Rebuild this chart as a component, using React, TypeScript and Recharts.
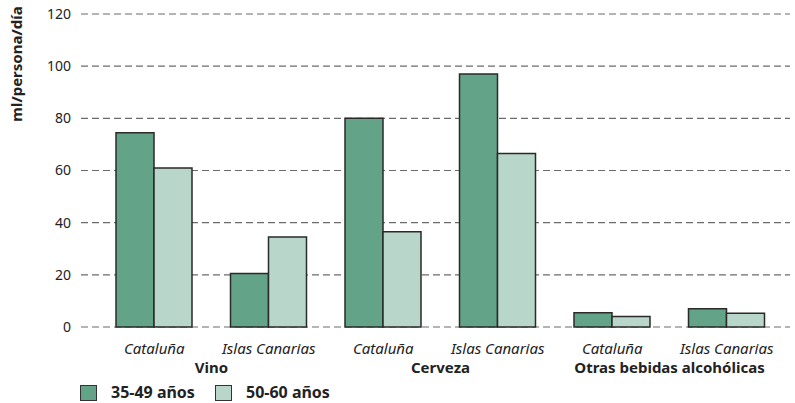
import { BarChart, Bar, XAxis, YAxis, CartesianGrid } from "recharts"

// Consumo de bebidas alcohólicas por región y grupo de edad (ml/persona/día)
const regions = ["Cataluña", "Islas Canarias", "Cataluña", "Islas Canarias", "Cataluña", "Islas Canarias"]
const groups = ["Vino", "Cerveza", "Otras bebidas alcohólicas"]
const age35to49 = [74.5, 20.5, 80, 97, 5.5, 7]
const age50to60 = [61, 34.5, 36.5, 66.5, 4, 5.3]
const yTicks = [0, 20, 40, 60, 80, 100, 120]

const DARK = "#63a388"
const LIGHT = "#b9d6ca"
const FONT = "'Noto Sans', 'Liberation Sans', Arial, sans-serif"

const data = regions.map((region, i) => ({
  region,
  group: groups[Math.floor(i / 2)],
  a: age35to49[i],
  b: age50to60[i],
}))

const BAND = (795 - 5 - 81 - 22) / regions.length

function RegionTick(props: any) {
  const { x, y, payload, index } = props
  return (
    <g>
      <text x={x} y={y + 25} textAnchor="middle" fontFamily={FONT} fontSize={15} fontStyle="italic" fill="#222">
        {payload.value}
      </text>
      {index % 2 === 1 && (
        <text x={x - BAND / 2} y={y + 44} textAnchor="middle" fontFamily={FONT} fontSize={15} fontWeight="bold" fill="#222">
          {data[index].group}
        </text>
      )}
    </g>
  )
}

function YLabel() {
  return (
    <text x={22} y={64} transform="rotate(-90, 22, 64)" textAnchor="middle" fontFamily={FONT} fontSize={15} fontWeight="bold" fill="#222">
      ml/persona/día
    </text>
  )
}

function LegendBox({ color, label, left }: { color: string; label: string; left: number }) {
  return (
    <div style={{ position: "absolute", left, top: 384, display: "flex", alignItems: "center" }}>
      <div style={{ width: 15, height: 14, background: color, border: "1.5px solid #333" }} />
      <span style={{ marginLeft: 14, fontFamily: FONT, fontSize: 16, fontWeight: "bold", color: "#222", lineHeight: "17px" }}>
        {label}
      </span>
    </div>
  )
}

export default function App() {
  return (
    <div style={{ position: "absolute", left: 0, top: 0, width: 795, height: 403, background: "#fff" }}>
      <BarChart
        width={795}
        height={403}
        data={data}
        margin={{ top: 14, right: 5, left: 0, bottom: 26 }}
        barGap={0}
        barSize={38}
      >
        <CartesianGrid vertical={false} strokeDasharray="7 4" stroke="#6b6b6b" strokeWidth={1.2} />
        <XAxis
          dataKey="region"
          height={50}
          interval={0}
          axisLine={false}
          tickLine={false}
          tickSize={0}
          padding={{ left: 16, right: 6 }}
          tick={<RegionTick />}
        />
        <YAxis
          width={81}
          domain={[0, 120]}
          ticks={yTicks}
          axisLine={false}
          tickLine={false}
          tickSize={0}
          tickMargin={10}
          tick={{ fontFamily: FONT, fontSize: 14, fill: "#222" }}
          label={<YLabel />}
        />
        <Bar dataKey="a" fill={DARK} stroke="#2a2a2a" strokeWidth={1.5} isAnimationActive={false} />
        <Bar dataKey="b" fill={LIGHT} stroke="#2a2a2a" strokeWidth={1.5} isAnimationActive={false} />
      </BarChart>
      <LegendBox color={DARK} label="35-49 años" left={80} />
      <LegendBox color={LIGHT} label="50-60 años" left={215} />
    </div>
  )
}
